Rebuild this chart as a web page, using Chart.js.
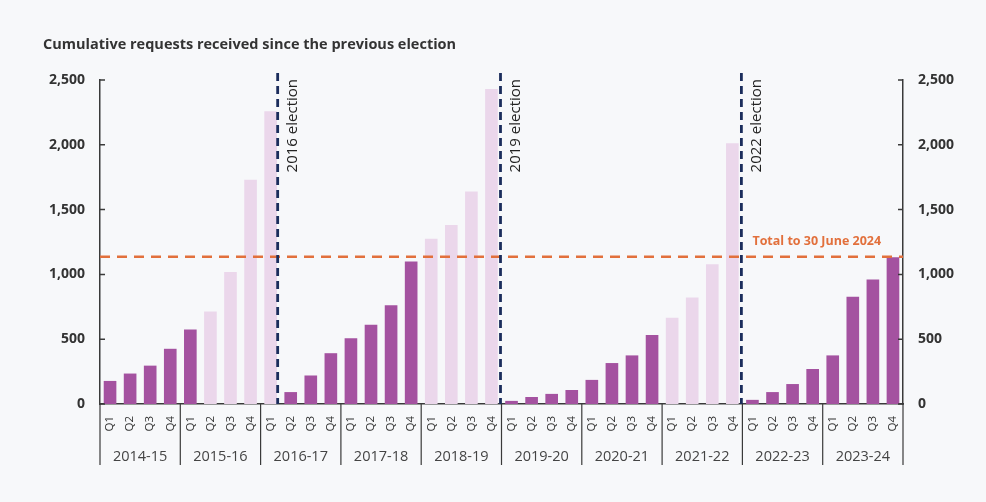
<!DOCTYPE html>
<html>
<head>
<meta charset="utf-8">
<script src="https://cdn.jsdelivr.net/npm/chart.js@4.4.1/dist/chart.umd.min.js"></script>
<style>
  html, body { margin: 0; padding: 0; background: #f7f8fa; }
  #wrap { width: 986px; height: 502px; position: relative; }
</style>
</head>
<body>
<div id="wrap"><canvas id="requestsChart" width="986" height="502"></canvas></div>
<script>
const years = ['2014-15', '2015-16', '2016-17', '2017-18', '2018-19', '2019-20', '2020-21', '2021-22', '2022-23', '2023-24'];
const quarters = ['Q1', 'Q2', 'Q3', 'Q4'];

// cumulative requests, one value per quarter
const requests = [
  178, 235, 296, 426,
  574, 714, 1018, 1730,
  2258, 92, 220, 392,
  508, 612, 762, 1100,
  1276, 1382, 1640, 2430,
  24, 54, 78, 108,
  186, 316, 375, 532,
  666, 822, 1078, 2012,
  32, 92, 154, 270,
  375, 828, 960, 1132
];
// 1 = final run-up to an election (light bars)
const runUp = [
  0, 0, 0, 0,
  0, 1, 1, 1,
  1, 0, 0, 0,
  0, 0, 0, 0,
  1, 1, 1, 1,
  0, 0, 0, 0,
  0, 0, 0, 0,
  1, 1, 1, 1,
  0, 0, 0, 0,
  0, 0, 0, 0
];

const elections = ['2016 election', '2019 election', '2022 election'];
const electionPos = [8.35, 19.45, 31.45]; // category index where the line falls
const totalToDate = 1137;
const totalLabel = 'Total to 30 June 2024';
const chartTitle = 'Cumulative requests received since the previous election';
const yTicks = [0, 500, 1000, 1500, 2000, 2500];

const quarterLabels = [];
years.forEach(() => quarters.forEach(q => quarterLabels.push(q)));

const DARK = '#a452a0';
const LIGHT = '#ebd7eb';
const AXIS = '#3a3a3a';
const FONT = "'Open Sans', 'Liberation Sans', sans-serif";

const overlay = {
  id: 'overlay',
  afterDraw(chart) {
    const ctx = chart.ctx;
    const x = chart.scales.x;
    const x2 = chart.scales.x2;
    const y = chart.scales.y;
    const area = chart.chartArea;
    ctx.save();

    // title, sits left of the plot
    ctx.fillStyle = '#333';
    ctx.font = "bold 14.5px " + FONT;
    ctx.textAlign = 'left';
    ctx.textBaseline = 'middle';
    ctx.fillText(chartTitle, 43, 45);

    // inward tick marks on both value axes
    ctx.strokeStyle = AXIS;
    ctx.lineWidth = 1.5;
    yTicks.forEach(v => {
      const py = y.getPixelForValue(v);
      ctx.beginPath();
      ctx.moveTo(area.left, py); ctx.lineTo(area.left + 5, py);
      ctx.moveTo(area.right, py); ctx.lineTo(area.right - 5, py);
      ctx.stroke();
    });

    // year separators under the axis
    ctx.lineWidth = 1.2;
    for (let i = 0; i <= years.length; i++) {
      const px = x.getPixelForValue(i * quarters.length - 0.5);
      ctx.beginPath();
      ctx.moveTo(px, x.top);
      ctx.lineTo(px, x2.bottom - 3);
      ctx.stroke();
    }

    // total-to-date line
    const ty = y.getPixelForValue(totalToDate);
    ctx.strokeStyle = '#e2703c';
    ctx.lineWidth = 2.5;
    ctx.setLineDash([10, 7]);
    ctx.beginPath();
    ctx.moveTo(area.left, ty);
    ctx.lineTo(area.right, ty);
    ctx.stroke();

    ctx.setLineDash([]);
    ctx.fillStyle = '#e2703c';
    ctx.font = "bold 12.5px " + FONT;
    ctx.textAlign = 'left';
    ctx.textBaseline = 'middle';
    ctx.fillText(totalLabel, x.getPixelForValue(31.45) + 11, ty - 15);

    // election lines and labels
    electionPos.forEach((pos, i) => {
      const px = x.getPixelForValue(pos);
      ctx.strokeStyle = '#1b2d5c';
      ctx.lineWidth = 2.8;
      ctx.setLineDash([8, 5]);
      ctx.beginPath();
      ctx.moveTo(px, area.top - 7);
      ctx.lineTo(px, area.bottom);
      ctx.stroke();
      ctx.setLineDash([]);

      ctx.save();
      ctx.translate(px + 15, area.top - 1);
      ctx.rotate(-Math.PI / 2);
      ctx.fillStyle = '#222';
      ctx.font = "15px " + FONT;
      ctx.textAlign = 'right';
      ctx.textBaseline = 'middle';
      ctx.fillText(elections[i], 0, 0);
      ctx.restore();
    });

    ctx.restore();
  }
};

const valueAxis = (position, pad) => ({
  position: position,
  min: 0,
  max: 2500,
  grid: { display: false, drawTicks: false },
  border: { display: true, color: AXIS, width: 1.5 },
  ticks: {
    stepSize: 500,
    padding: pad,
    color: '#333',
    font: { family: FONT, size: 14, weight: 'bold' },
    callback: v => v.toLocaleString('en-US')
  }
});

const yLeft = valueAxis('left', 15);
yLeft.afterFit = s => { s.width = 100; };
const yRight = valueAxis('right', 15);
yRight.afterFit = s => { s.width = 83; };

new Chart(document.getElementById('requestsChart'), {
  type: 'bar',
  data: {
    labels: quarterLabels,
    datasets: [{
      label: 'Cumulative requests',
      data: requests,
      backgroundColor: runUp.map(r => (r ? LIGHT : DARK)),
      borderWidth: 0,
      categoryPercentage: 1,
      barPercentage: 0.63
    }]
  },
  options: {
    responsive: false,
    animation: false,
    layout: { padding: { left: 0, right: 0, top: 80, bottom: 34 } },
    plugins: {
      legend: { display: false },
      tooltip: { enabled: false },
      title: { display: false }
    },
    scales: {
      x: {
        position: 'bottom',
        grid: { display: false, drawTicks: false },
        border: { display: true, color: AXIS, width: 1.5 },
        ticks: {
          autoSkip: false,
          minRotation: 90,
          maxRotation: 90,
          padding: 12,
          color: '#333',
          font: { family: FONT, size: 11.5 }
        },
        afterFit: s => { s.height = 36; }
      },
      x2: {
        type: 'category',
        position: 'bottom',
        labels: years,
        offset: true,
        grid: { display: false, drawTicks: false },
        border: { display: false },
        ticks: {
          padding: 8,
          color: '#444',
          font: { family: FONT, size: 14.5 }
        },
        afterFit: s => { s.height = 28; }
      },
      y: yLeft,
      y2: yRight
    }
  },
  plugins: [overlay]
});
</script>
</body>
</html>
